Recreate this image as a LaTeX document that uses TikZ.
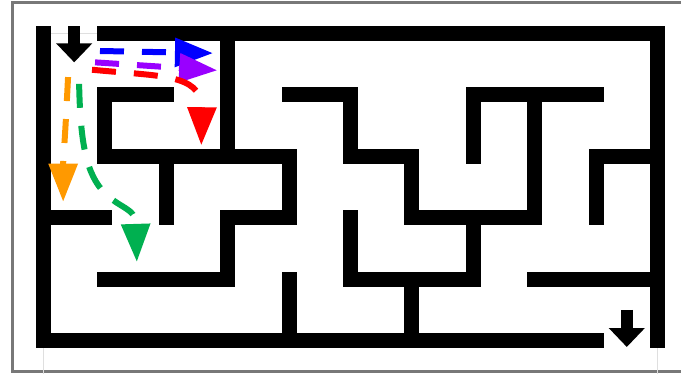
\documentclass[tikz,border=0pt]{standalone}
\usepackage{xcolor}
\usepackage{tikz}
\usetikzlibrary{arrows.meta,positioning}

\definecolor{rblue}{RGB}{0,0,255}
\definecolor{rpurple}{RGB}{153,0,255}
\definecolor{rred}{RGB}{255,0,0}
\definecolor{rorange}{RGB}{255,153,0}
\definecolor{rgreen}{RGB}{0,176,80}
\definecolor{framegray}{RGB}{120,120,120}

\begin{document}
\begin{tikzpicture}[
    x=61.4pt, y=-61.4pt,
    wall/.style={black, line width=15pt, line cap=rect, line join=miter},
    gate/.style={black, line width=12pt, -{Triangle[length=19pt,width=35pt]}},
    route/.style={line width=6pt, dash pattern=on 24pt off 18pt, -{Triangle[length=38pt,width=28pt]}}
]
    \useasboundingbox (-0.7085,-0.5456) rectangle (10.3827,5.5456);

    % Frame
    \draw[framegray, line width=2.3pt] (11,-0.505) -| (-0.505,5.505) -- (11,5.505);
    \draw[gray!25, line width=0.8pt] (0,5.8) -- (0,0) -- (10,0) -- (10,5.8);

    % Outer walls
    \draw[wall] (1,0) -- (10,0) -- (10,5);
    \draw[wall] (0,0) -- (0,5) -- (9,5);

    % Inner walls
    \draw[wall] (2,1) -- (1,1) -- (1,2) -- (4,2) -- (4,3) -- (3,3) -- (3,4) -- (1,4);
    \draw[wall] (3,0) -- (3,2);
    \draw[wall] (2,2) -- (2,3);
    \draw[wall] (0,3) -- (1,3);
    \draw[wall] (4,1) -- (5,1) -- (5,2) -- (6,2) -- (6,3) -- (8,3);
    \draw[wall] (5,3) -- (5,4) -- (7,4) -- (7,3);
    \draw[wall] (4,4) -- (4,5);
    \draw[wall] (6,4) -- (6,5);
    \draw[wall] (7,2) -- (7,1) -- (9,1);
    \draw[wall] (8,1) -- (8,3);
    \draw[wall] (10,2) -- (9,2) -- (9,3);
    \draw[wall] (8,4) -- (10,4);

    % Entrance and exit
    \coordinate (entry) at (0.5,-0.122);
    \coordinate (entrytip) at (0.5,0.47);
    \coordinate (exit) at (9.5,4.503);
    \coordinate (exittip) at (9.5,5.106);
    \draw[gate] (entry) -- (entrytip);
    \draw[gate] (exit) -- (exittip);

    % Routes
    \coordinate (blue0) at (0.92,0.285);
    \coordinate (blue1) at (2.76,0.32);
    \coordinate (purple0) at (0.84,0.47);
    \coordinate (purple1) at (2.83,0.60);
    \coordinate (red0) at (0.79,0.59);
    \coordinate (red1) at (2.57,1.82);
    \coordinate (orange0) at (0.40,0.71);
    \coordinate (orange1) at (0.32,2.74);
    \coordinate (green0) at (0.58,0.82);
    \coordinate (green1) at (1.52,3.72);

    \draw[route, rblue] (blue0) -- (blue1);
    \draw[route, rpurple] (purple0) -- (purple1);
    \draw[route, rred] (red0) .. controls (1.9,0.7) and (2.55,0.65) .. (2.58,1.2) -- (red1);
    \draw[route, rorange] (orange0) .. controls (0.36,1.5) .. (0.32,2.11) -- (orange1);
    \draw[route, rgreen] (green0) .. controls (0.60,1.8) and (0.70,2.3) .. (1.0,2.6)
        .. controls (1.25,2.85) and (1.49,2.85) .. (1.50,3.08) -- (green1);

\end{tikzpicture}
\end{document}
